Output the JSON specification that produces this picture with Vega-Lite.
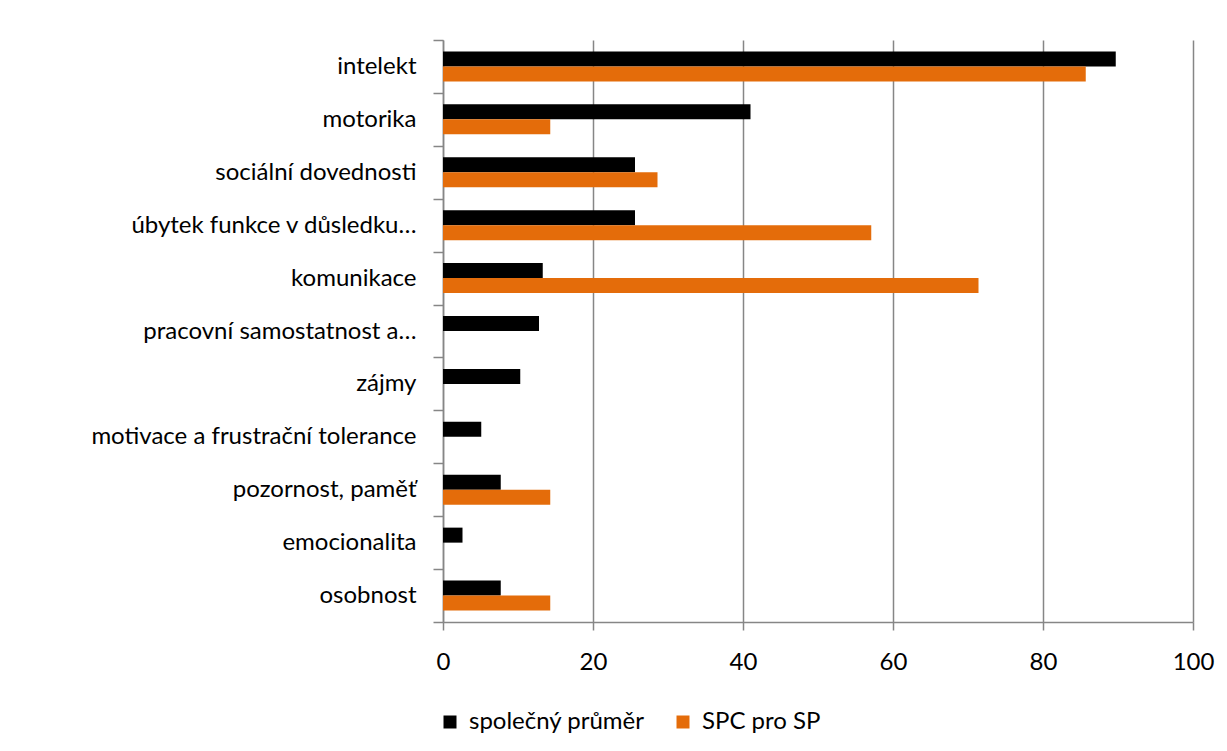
{
  "$schema": "https://vega.github.io/schema/vega-lite/v6.json",
  "autosize": {"type": "none"},
  "width": 750,
  "height": 582,
  "padding": {"left": 443, "top": 40, "right": 34, "bottom": 129},
  "background": "white",
  "config": {
    "font": "Lato",
    "view": {"stroke": null},
    "axis": {"labelFont": "Lato", "labelColor": "#000000"},
    "legend": {"labelFont": "Lato"}
  },
  "data": {
    "values": [
      {"kategorie": "intelekt", "rada": "společný průměr", "hodnota": 89.7},
      {"kategorie": "intelekt", "rada": "SPC pro SP", "hodnota": 85.7},
      {"kategorie": "motorika", "rada": "společný průměr", "hodnota": 41.0},
      {"kategorie": "motorika", "rada": "SPC pro SP", "hodnota": 14.3},
      {"kategorie": "sociální dovednosti", "rada": "společný průměr", "hodnota": 25.6},
      {"kategorie": "sociální dovednosti", "rada": "SPC pro SP", "hodnota": 28.6},
      {"kategorie": "úbytek funkce v důsledku…", "rada": "společný průměr", "hodnota": 25.6},
      {"kategorie": "úbytek funkce v důsledku…", "rada": "SPC pro SP", "hodnota": 57.1},
      {"kategorie": "komunikace", "rada": "společný průměr", "hodnota": 13.3},
      {"kategorie": "komunikace", "rada": "SPC pro SP", "hodnota": 71.4},
      {"kategorie": "pracovní samostatnost a…", "rada": "společný průměr", "hodnota": 12.8},
      {"kategorie": "pracovní samostatnost a…", "rada": "SPC pro SP", "hodnota": 0},
      {"kategorie": "zájmy", "rada": "společný průměr", "hodnota": 10.3},
      {"kategorie": "zájmy", "rada": "SPC pro SP", "hodnota": 0},
      {"kategorie": "motivace a frustrační tolerance", "rada": "společný průměr", "hodnota": 5.1},
      {"kategorie": "motivace a frustrační tolerance", "rada": "SPC pro SP", "hodnota": 0},
      {"kategorie": "pozornost, paměť", "rada": "společný průměr", "hodnota": 7.7},
      {"kategorie": "pozornost, paměť", "rada": "SPC pro SP", "hodnota": 14.3},
      {"kategorie": "emocionalita", "rada": "společný průměr", "hodnota": 2.6},
      {"kategorie": "emocionalita", "rada": "SPC pro SP", "hodnota": 0},
      {"kategorie": "osobnost", "rada": "společný průměr", "hodnota": 7.7},
      {"kategorie": "osobnost", "rada": "SPC pro SP", "hodnota": 14.3}
    ]
  },
  "mark": {"type": "bar"},
  "encoding": {
    "y": {
      "field": "kategorie",
      "type": "nominal",
      "sort": null,
      "scale": {"paddingInner": 0, "paddingOuter": 0},
      "axis": {
        "title": null,
        "tickBand": "extent",
        "tickSize": 10,
        "tickColor": "#868686",
        "tickWidth": 1.5,
        "domainColor": "#868686",
        "domainWidth": 1.5,
        "labelFontSize": 24,
        "labelPadding": 17,
        "labelLimit": 420,
        "grid": false
      }
    },
    "yOffset": {
      "field": "rada",
      "type": "nominal",
      "sort": ["společný průměr", "SPC pro SP"],
      "scale": {"paddingInner": 0, "paddingOuter": 0.763}
    },
    "x": {
      "field": "hodnota",
      "type": "quantitative",
      "scale": {"domain": [0, 100], "nice": false},
      "axis": {
        "title": null,
        "values": [0, 20, 40, 60, 80, 100],
        "grid": true,
        "gridColor": "#868686",
        "gridWidth": 1.5,
        "tickSize": 8,
        "tickColor": "#868686",
        "tickWidth": 1.5,
        "domainColor": "#868686",
        "domainWidth": 1.5,
        "labelFontSize": 24,
        "labelPadding": 20,
        "labelFlush": false
      }
    },
    "color": {
      "field": "rada",
      "type": "nominal",
      "sort": ["společný průměr", "SPC pro SP"],
      "scale": {"domain": ["společný průměr", "SPC pro SP"], "range": ["#000000", "#E46C0A"]},
      "legend": {
        "title": null,
        "orient": "none",
        "direction": "horizontal",
        "legendX": -5,
        "legendY": 670,
        "symbolType": "square",
        "symbolSize": 169,
        "symbolStrokeWidth": 0,
        "symbolOpacity": 1,
        "labelFontSize": 24,
        "labelColor": "#000000",
        "labelOffset": 7,
        "columnPadding": 26,
        "padding": 0,
        "labelLimit": 400
      }
    }
  }
}
